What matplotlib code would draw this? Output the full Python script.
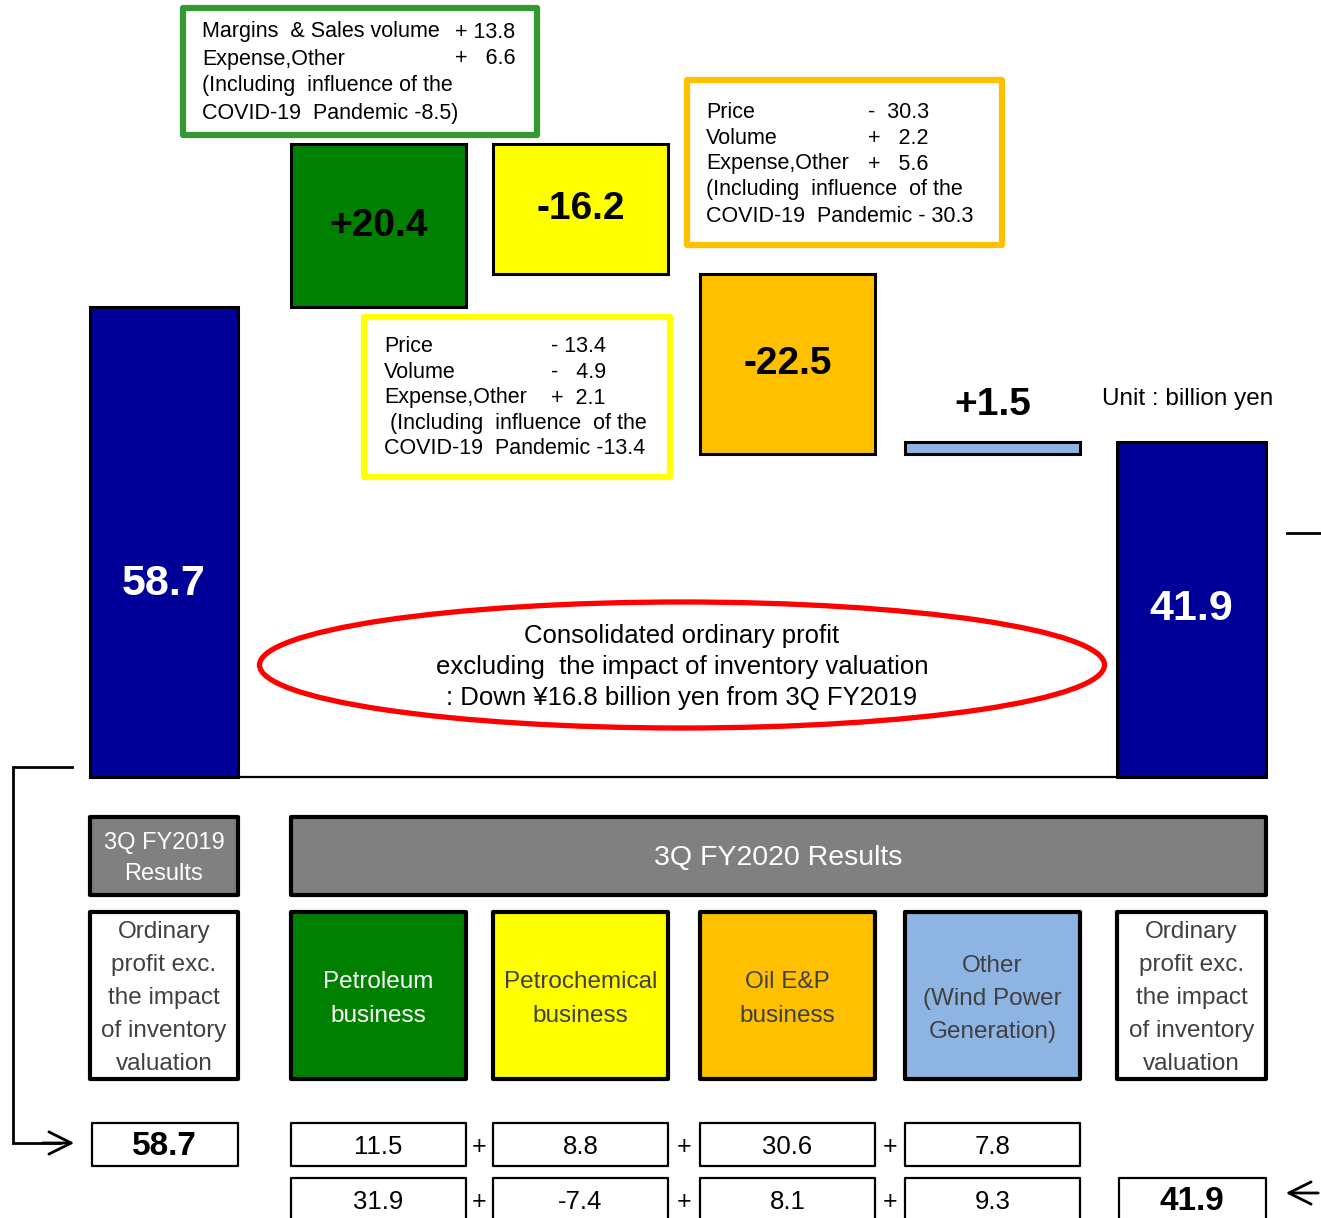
import matplotlib
matplotlib.use("Agg")
import matplotlib.pyplot as plt
from matplotlib.patches import Rectangle, Ellipse

plt.rcParams['font.family'] = ['Liberation Sans', 'DejaVu Sans']

# ---- data (billion yen) ----
segments = ['Petroleum\nbusiness', 'Petrochemical\nbusiness', 'Oil E&P\nbusiness',
            'Other\n(Wind Power\nGeneration)']
fy2019_seg = [11.5, 8.8, 30.6, 7.8]
fy2020_seg = [31.9, -7.4, 8.1, 9.3]
total_name = 'Ordinary\nprofit exc.\nthe impact\nof inventory\nvaluation'
header_2019 = '3Q FY2019\nResults'
header_2020 = '3Q FY2020 Results'
unit_text = 'Unit : billion yen'
ellipse_text = ['Consolidated ordinary profit',
                'excluding  the impact of inventory valuation',
                ': Down \u00a516.8 billion yen from 3Q FY2019']
green_note = [('Margins  & Sales volume', '+ 13.8'), ('Expense,Other', '+   6.6'),
              ('(Including  influence of the', ''), ('COVID-19  Pandemic -8.5)', '')]
yellow_note = [('Price', '- 13.4'), ('Volume', '-   4.9'), ('Expense,Other', '+  2.1'),
               (' (Including  influence  of the', ''), ('COVID-19  Pandemic -13.4', '')]
orange_note = [('Price', '-  30.3'), ('Volume', '+   2.2'), ('Expense,Other', '+   5.6'),
               ('(Including  influence  of the', ''), ('COVID-19  Pandemic - 30.3', '')]

total_2019 = round(sum(fy2019_seg), 1)
total_2020 = round(sum(fy2020_seg), 1)
deltas = [round(b - a, 1) for a, b in zip(fy2019_seg, fy2020_seg)]

# ---- layout (pixels) ----
W, H = 1321, 1218
col_l = [90, 291, 493, 700, 905, 1117]
col_r = [238, 466, 668, 875, 1080, 1266]
centers = [(l + r) / 2 for l, r in zip(col_l, col_r)]
widths = [r - l for l, r in zip(col_l, col_r)]
base_px = 777      # pixel row of zero
px_unit = 8.0      # pixels per billion yen

navy = '#000099'
seg_colors = ['#008000', '#FFFF00', '#FFC000', '#8DB4E2']
seg_text_colors = ['white', '#404040', '#404040', '#404040']
gray = '#808080'

fig = plt.figure(figsize=(W / 100, H / 100), dpi=100)

# waterfall axes, y in billion yen
wf = fig.add_axes([0, 0, 1, 1])
wf.set_xlim(0, W)
wf.set_ylim(-(H - base_px) / px_unit, base_px / px_unit)
wf.axis('off')

levels = [total_2019]
for d in deltas:
    levels.append(levels[-1] + d)
bottoms = [0] + [min(levels[i], levels[i + 1]) for i in range(4)] + [0]
heights = [total_2019] + [abs(d) for d in deltas] + [total_2020]
colors = [navy] + seg_colors + [navy]
wf.bar(centers, heights, width=widths, bottom=bottoms, color=colors,
       edgecolor='black', linewidth=2.2, zorder=2)
wf.plot([col_l[0], col_r[-1]], [0, 0], color='black', lw=1.6, zorder=3)

wf.text(centers[0], total_2019 * 0.41, f'{total_2019:.1f}', color='white',
        fontsize=31, fontweight='bold', ha='center', va='center', zorder=4)
wf.text(centers[-1], total_2020 * 0.5, f'{total_2020:.1f}', color='white',
        fontsize=31, fontweight='bold', ha='center', va='center', zorder=4)
for i, d in enumerate(deltas):
    b, h = bottoms[i + 1], heights[i + 1]
    y = b + h + 4.6 if h < 3 else b + h / 2
    wf.text(centers[i + 1], y, f'{d:+.1f}', color='black', fontsize=28,
            fontweight='bold', ha='center', va='center', zorder=4)

# overlay axes in pixel coordinates
ax = fig.add_axes([0, 0, 1, 1])
ax.set_xlim(0, W)
ax.set_ylim(H, 0)
ax.axis('off')
ax.patch.set_visible(False)


def box(x0, y0, x1, y1, fc='white', ec='black', lw=2.2, z=2):
    ax.add_patch(Rectangle((x0, y0), x1 - x0, y1 - y0, facecolor=fc,
                           edgecolor=ec, linewidth=lw, joinstyle='round', zorder=z))


def lines_text(x, yc, text, step, **kw):
    parts = text.split('\n')
    n = len(parts)
    for i, p in enumerate(parts):
        ax.text(x, yc + (i - (n - 1) / 2) * step, p, ha='center', va='center', **kw)


def note(rect, rows, x_txt, x_val, y0, step, ec):
    box(*rect, ec=ec, lw=4.5)
    for i, (lab, val) in enumerate(rows):
        y = y0 + i * step
        ax.text(x_txt, y, lab, fontsize=15.5, ha='left', va='center', zorder=5)
        if val:
            ax.text(x_val, y, val, fontsize=15.5, ha='left', va='center', zorder=5)


note((183, 8, 537, 135), green_note, 202, 455, 32, 27, '#339933')
note((687, 80, 1002, 245), orange_note, 706, 868, 112, 26, '#FFC000')
note((364, 317, 670, 477), yellow_note, 384, 551, 347, 25.5, '#FFFF00')

ax.text(1102, 399, unit_text, fontsize=17.5, ha='left', va='center')

ax.add_patch(Ellipse((682, 665), 845, 126, fill=False, edgecolor='red', lw=3.8, zorder=3))
for i, t in enumerate(ellipse_text):
    ax.text(682, 636 + i * 31, t, fontsize=18.5, ha='center', va='center', zorder=4)

# header row
box(col_l[0], 817, col_r[0], 895, fc=gray, lw=3)
lines_text(centers[0], 858, header_2019, 31, color='white', fontsize=17)
box(col_l[1], 817, col_r[-1], 895, fc=gray, lw=3)
ax.text((col_l[1] + col_r[-1]) / 2, 858, header_2020, color='white',
        fontsize=20.5, ha='center', va='center')

# category row
for k in (0, 5):
    box(col_l[k], 912, col_r[k], 1079, lw=3)
    lines_text(centers[k], 998, total_name, 33, color='#404040', fontsize=17.5)
for i, name in enumerate(segments):
    k = i + 1
    box(col_l[k], 912, col_r[k], 1079, fc=seg_colors[i], lw=3)
    lines_text(centers[k], 999, name, 33, color=seg_text_colors[i], fontsize=17.5)

# value rows
rows = [(1123, 1166, total_2019, fy2019_seg, None),
        (1178, 1222, None, fy2020_seg, total_2020)]
for y0, y1, left, segs, right in rows:
    yc = (y0 + y1) / 2 + 2
    if left is not None:
        box(col_l[0] + 2, y0, col_r[0], y1, lw=1.6)
        ax.text(centers[0], yc, f'{left:.1f}', fontsize=24, fontweight='bold',
                ha='center', va='center')
    if right is not None:
        box(col_l[5] + 2, y0, col_r[5], y1, lw=1.6)
        ax.text(centers[5], yc, f'{right:.1f}', fontsize=24, fontweight='bold',
                ha='center', va='center')
    for i, v in enumerate(segs):
        k = i + 1
        box(col_l[k], y0, col_r[k], y1, lw=1.6)
        ax.text(centers[k], yc, f'{v:.1f}', fontsize=18.5, ha='center', va='center')
        if i < 3:
            ax.text((col_r[k] + col_l[k + 1]) / 2, yc, '+', fontsize=18,
                    ha='center', va='center')

# connector arrows
ax.plot([72, 13, 13, 60], [767, 767, 1143, 1143], color='black', lw=2,
        solid_joinstyle='miter')
ax.annotate('', xy=(77, 1143), xytext=(40, 1143),
            arrowprops=dict(arrowstyle='->', lw=2, color='black',
                            mutation_scale=40))
ax.annotate('', xy=(1283, 1193), xytext=(1321, 1193),
            arrowprops=dict(arrowstyle='->', lw=2, color='black',
                            mutation_scale=40))
ax.plot([1287, 1321], [533, 533], color='black', lw=2)

fig.savefig('out.png', dpi=100)
